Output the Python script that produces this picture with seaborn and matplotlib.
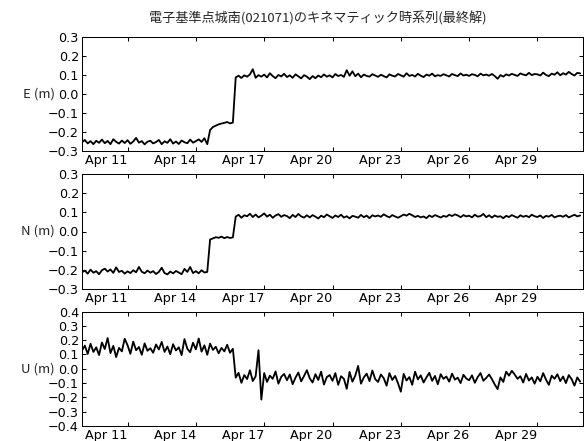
import numpy as np
import pandas as pd

import matplotlib
matplotlib.use("Agg")
import matplotlib.pyplot as plt
import matplotlib.dates as mdates
import seaborn as sns

# ============================================================
# DATA (mm, every 3 h from Apr 9 00:00 UTC)
# one row per day: 00 03 06 09 12 15 18 21
# ============================================================
TITLE = "電子基準点城南(021071)のキネマティック時系列(最終解)"
START = "2016-04-09"
END = "2016-05-01"
STEP = "3h"

east_mm = [
    -252, -240, -258, -246, -262, -244, -255, -238,
    -257, -245, -262, -236, -250, -259, -243, -256,
    -241, -260, -248, -229, -254, -246, -263, -249,
    -244, -258, -251, -240, -262, -247, -255, -236,
    -259, -248, -261, -243, -252, -257, -238, -254,
    -246, -237, -250, -231, -262, -188, -172, -165,
    -158, -154, -150, -146, -153, -149, 88, 97,
    85, 99, 92, 104, 131, 86, 100, 92,
    103, 88, 110, 95, 84, 101, 93, 107,
    90, 99, 86, 104, 94, 83, 100, 92,
    79, 95, 84, 98, 89, 104, 92, 99,
    88, 106, 95, 101, 91, 126, 97, 120,
    94, 108, 89, 103, 96, 92, 105, 98,
    91, 102, 95, 88, 104, 97, 93, 106,
    99, 92, 110, 96, 101, 93, 107, 97,
    90, 103, 97, 108, 94, 100, 96, 105,
    99, 93, 106, 100, 95, 109, 98, 102,
    96, 105, 101, 94, 108, 99, 103, 97,
    106, 95, 81, 100, 92, 104, 98, 107,
    101, 96, 109, 103, 99, 112, 100, 106,
    104, 98, 113, 101, 95, 108, 102, 115,
    99, 110, 103, 117, 106, 98, 112, 109,
]

north_mm = [
    -214, -205, -221, -200, -216, -208, -224, -203,
    -195, -210, -199, -217, -188, -212, -206, -221,
    -209, -218, -203, -214, -186, -211, -219, -205,
    -216, -208, -223, -212, -190, -218, -225, -210,
    -220, -207, -215, -224, -196, -212, -186, -218,
    -208, -219, -203, -215, -212, -42, -36, -30,
    -33, -27, -35, -29, -34, -31, 78, 88,
    72, 85, 80, 93, 76, 89, 74, 83,
    95, 78, 88, 72, 84, 91, 77, 86,
    81, 70, 87, 76, 92, 79, 73, 85,
    74, 86, 78, 68, 83, 75, 89, 80,
    71, 84, 76, 88, 73, 80, 69, 82,
    78, 72, 87, 75, 83, 70, 85, 79,
    84, 77, 90, 81, 74, 86, 79, 72,
    80, 89, 83, 93, 85, 76, 82, 74,
    79, 70, 84, 76, 86, 80, 73, 82,
    77, 88, 81, 90, 84, 75, 86, 79,
    83, 74, 88, 78, 81, 92, 75, 85,
    73, 84, 77, 80, 70, 82, 76, 86,
    79, 72, 85, 77, 83, 75, 88, 80,
    76, 84, 71, 82, 78, 87, 74, 80,
    83, 77, 86, 74, 81, 88, 79, 84,
]

up_mm = [
    128, 162, 104, 175, 118, 150, 96, 184,
    138, 215, 110, 160, 82, 146, 122, 210,
    165, 105, 190, 130, 152, 98, 178, 126,
    144, 112, 170, 135, 188, 118, 156, 102,
    172, 128, 150, 96, 208, 140, 116, 182,
    136, 212, 120, 164, 98, 176, 132, 154,
    108, 146, 122, 168, 112, 140, -62, -28,
    -98, -44, -72, -10, -86, -52, 130, -215,
    -30, -92, -48, -70, -18, -104, -56, -36,
    -80, -40, -108, -62, -26, -88, -50, -10,
    -66, -96, -38, -78, -20, -110, -58, -44,
    -84, -30, -112, -52, -70, -140, -22, -90,
    -48, 20, -104, -60, -34, -86, -12, -72,
    -92, -40, -66, -118, -30, -78, -50, -100,
    -160, -36, -82, -58, -112, -20, -74, -46,
    -96, -60, -28, -84, -50, -108, -38, -70,
    -54, -90, -34, -76, -62, -100, -42, -68,
    -80, -46, -98, -58, -30, -84, -64, -40,
    -72, -110, -142, -60, -92, -20, -48, -14,
    -40, -70, -52, -96, -36, -82, -60, -104,
    -56, -88, -30, -76, -112, -48, -70, -38,
    -86, -54, -100, -44, -72, -118, -60, -90,
]

COMPONENTS = ["E", "N", "U"]
YLABELS = ["E (m)", "N (m)", "U (m)"]
YTICKS = [
    [-0.3, -0.2, -0.1, 0.0, 0.1, 0.2, 0.3],
    [-0.3, -0.2, -0.1, 0.0, 0.1, 0.2, 0.3],
    [-0.4, -0.3, -0.2, -0.1, 0.0, 0.1, 0.2, 0.3, 0.4],
]
TICK_DAYS = [11, 14, 17, 20, 23, 26, 29]

times = pd.date_range(START, periods=len(east_mm), freq=STEP)
df = pd.DataFrame({
    "time": times,
    "E": np.array(east_mm) / 1000.0,
    "N": np.array(north_mm) / 1000.0,
    "U": np.array(up_mm) / 1000.0,
})

# ============================================================
# STYLE
# ============================================================
sns.set_style("ticks")
plt.rcParams["font.family"] = ["DejaVu Sans", "Noto Sans CJK JP"]
plt.rcParams["axes.edgecolor"] = "black"
plt.rcParams["axes.linewidth"] = 1.0
JP = ["Noto Sans CJK JP", "DejaVu Sans"]

W, H, DPI = 584, 441, 73
fig, axes = plt.subplots(3, 1, figsize=(W / DPI, H / DPI), dpi=DPI)
fig.subplots_adjust(left=82 / W, right=583 / W, top=1 - 37 / H,
                    bottom=1 - 426 / H, hspace=0.2)

for ax, comp, lab, yt in zip(axes, COMPONENTS, YLABELS, YTICKS):
    sns.lineplot(data=df, x="time", y=comp, ax=ax, color="black",
                 linewidth=1.8, estimator=None)
    ax.set_xlim(pd.Timestamp(START), pd.Timestamp(END))
    ax.set_ylim(yt[0], yt[-1])
    ax.set_yticks(yt)
    ax.xaxis.set_major_locator(mdates.DayLocator(bymonthday=TICK_DAYS))
    ax.xaxis.set_major_formatter(mdates.DateFormatter("%b %d"))
    ax.tick_params(direction="in", top=True, right=True, length=4,
                   width=1, labelsize=12.6, pad=3, colors="black")
    # date labels sit to the left of their tick, as in the original
    plt.setp(ax.get_xticklabels(), ha="right")
    ax.set_xlabel("")
    ax.set_ylabel(lab, rotation=0, ha="right", va="center", fontsize=13,
                  family=JP)
    ax.yaxis.set_label_coords(-0.054, 0.5)

fig.text(318 / W, 1 - 18 / H, TITLE, ha="center", va="center",
         fontsize=13, family=JP)

fig.savefig("out.png", dpi=DPI)
